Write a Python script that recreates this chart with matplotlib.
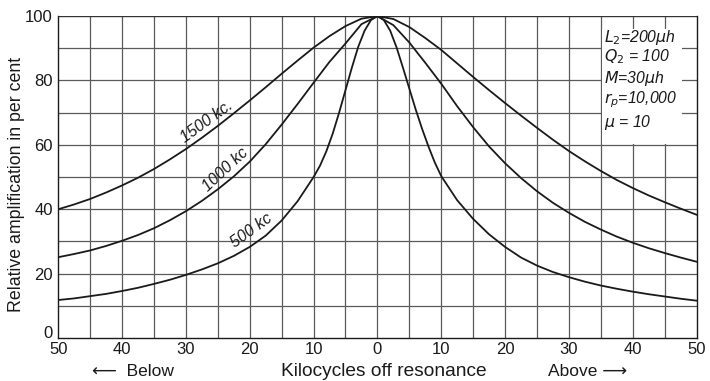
import matplotlib
matplotlib.use("Agg")
import matplotlib.pyplot as plt
import matplotlib.transforms as mtransforms
from matplotlib.patches import Rectangle

plt.rcParams['font.family'] = ['Liberation Sans', 'DejaVu Sans']
plt.rcParams['mathtext.fontset'] = 'dejavusans'

# Kilocycles off resonance (negative = below, positive = above)
kc_1500 = [-50, -47.5, -45, -42.5, -40, -37.5, -35, -32.5, -30, -27.5, -25, -22.5,
           -20, -17.5, -15, -12.5, -10, -7.5, -5, -2.5, 0, 2.5, 5, 7.5, 10, 12.5,
           15, 17.5, 20, 22.5, 25, 27.5, 30, 32.5, 35, 37.5, 40, 42.5, 45, 47.5, 50]
amp_1500 = [40, 41.5, 43.2, 45.2, 47.4, 49.8, 52.5, 55.5, 58.7, 62.2, 65.9, 69.8,
            73.8, 77.9, 82.1, 86.2, 90.2, 93.8, 96.9, 99.2, 100, 99.1, 96.6, 93.2, 89.5, 85.3,
            81.1, 77, 73, 69.1, 65.3, 61.6, 58.1, 54.9, 51.9, 49.1, 46.6, 44.3, 42.2, 40.2, 38.3]

kc_1000 = [-50, -47.5, -45, -42.5, -40, -37.5, -35, -32.5, -30, -27.5, -25, -22.5,
           -20, -17.5, -15, -12.5, -10, -7.5, -5, -2.5, 0, 2.5, 5, 7.5, 10, 12.5,
           15, 17.5, 20, 22.5, 25, 27.5, 30, 32.5, 35, 37.5, 40, 42.5, 45, 47.5, 50]
amp_1000 = [25.1, 26.1, 27.2, 28.6, 30.2, 32, 34.1, 36.6, 39.4, 42.6, 46.2, 50.2,
            54.8, 60.2, 66.3, 72.7, 79.3, 85.8, 91.5, 97.5, 100, 97.2, 91.8, 85.5, 79, 72,
            65.5, 59.5, 54.3, 49.7, 45.6, 42, 38.9, 36.1, 33.7, 31.5, 29.6, 27.9, 26.4, 25, 23.7]

kc_500 = [-50, -47.5, -45, -42.5, -40, -37.5, -35, -32.5, -30, -27.5, -25, -22.5,
          -20, -17.5, -15, -12.5, -10, -9, -8, -7, -6, -5, -4, -3, -2, -1, 0,
          1, 2, 3, 4, 5, 6, 7, 8, 9, 10, 12.5, 15, 17.5, 20, 22.5, 25, 27.5,
          30, 32.5, 35, 37.5, 40, 42.5, 45, 47.5, 50]
amp_500 = [11.8, 12.3, 13, 13.7, 14.6, 15.6, 16.8, 18.1, 19.6, 21.3, 23.2, 25.5,
           28.3, 31.8, 36.5, 42.5, 50, 53.5, 58, 63.5, 70, 77, 84, 90.5, 95.5, 98.8, 100,
           98.8, 95.5, 90.3, 84, 77.5, 71, 65, 59.5, 54.5, 50.3, 42.8, 37, 32.2, 28.3, 25, 22.5, 20.5,
           18.9, 17.5, 16.3, 15.3, 14.4, 13.6, 12.9, 12.2, 11.6]

curve_labels = ["1500 kc.", "1000 kc", "500 kc"]
circuit_constants = [r"$L_2$=200$\mu$h", r"$Q_2$ = 100", r"$M$=30$\mu$h",
                     r"$r_p$=10,000", r"$\mu$ = 10"]

x_ticks = list(range(-50, 51, 10))
x_ticklabels = [str(abs(v)) for v in x_ticks]
y_ticks = list(range(0, 101, 20))

ink = '#1a1a1a'

fig = plt.figure(figsize=(7.10, 3.81), dpi=100)
ax = fig.add_axes([0.0821, 0.1129, 0.8989, 0.8448])

grid_c = '#5a5a5a'
for gx in range(-45, 50, 5):
    ax.axvline(gx, color=grid_c, lw=0.9, zorder=1)
for gy in range(10, 100, 10):
    ax.axhline(gy, color=grid_c, lw=0.9, zorder=1)
ax.axhline(100, color='#333333', lw=1.0, zorder=1)

# White panel holding the circuit constants
ax.add_patch(Rectangle((35.25, 60.4), 12.4, 35.6, facecolor='white',
                       edgecolor='none', zorder=2))

for kc, amp in [(kc_1500, amp_1500), (kc_1000, amp_1000), (kc_500, amp_500)]:
    ax.plot(kc, amp, color=ink, lw=1.3, zorder=3, solid_joinstyle='round')

label_kw = dict(fontsize=11.5, style='italic', color=ink, zorder=4,
                ha='center', va='center')
ax.text(-26.8, 67.3, curve_labels[0], rotation=36, **label_kw)
ax.text(-23.8, 52.3, curve_labels[1], rotation=43, **label_kw)
ax.text(-19.7, 33.3, curve_labels[2], rotation=36, **label_kw)

const_y = [92.0, 85.9, 79.3, 73.0, 65.6]
for txt, yy in zip(circuit_constants, const_y):
    ax.text(35.45, yy, txt, fontsize=11.3, style='italic', color=ink,
            ha='left', va='baseline', zorder=4)

ax.set_xlim(-50, 50)
ax.set_ylim(0, 100)
ax.set_xticks(x_ticks)
ax.set_xticklabels(x_ticklabels)
ax.set_yticks(y_ticks)
ax.tick_params(length=0, labelsize=12, colors=ink)
ax.tick_params(axis='x', pad=3)
ax.tick_params(axis='y', pad=4)
for s in ax.spines.values():
    s.set_color(ink)
    s.set_linewidth(1.0)
ax.spines['top'].set_visible(False)

# lift the zero label a little so it clears the first x label
zero_lbl = ax.get_yticklabels()[0]
zero_lbl.set_transform(zero_lbl.get_transform() +
                       mtransforms.ScaledTranslation(0, 4 / 72, fig.dpi_scale_trans))

ax.set_ylabel("Relative amplification in per cent", fontsize=12.8, color=ink, va='center')
ax.yaxis.set_label_coords(-0.066, 0.478)

fig.text(0.187, 0.026, "\u27f5  Below", fontsize=12.5, ha='center', va='center', color=ink)
fig.text(0.541, 0.026, "Kilocycles off resonance", fontsize=13.8, ha='center', va='center', color=ink)
fig.text(0.828, 0.026, "Above \u27f6", fontsize=12.5, ha='center', va='center', color=ink)

fig.savefig("out.png", dpi=100)
